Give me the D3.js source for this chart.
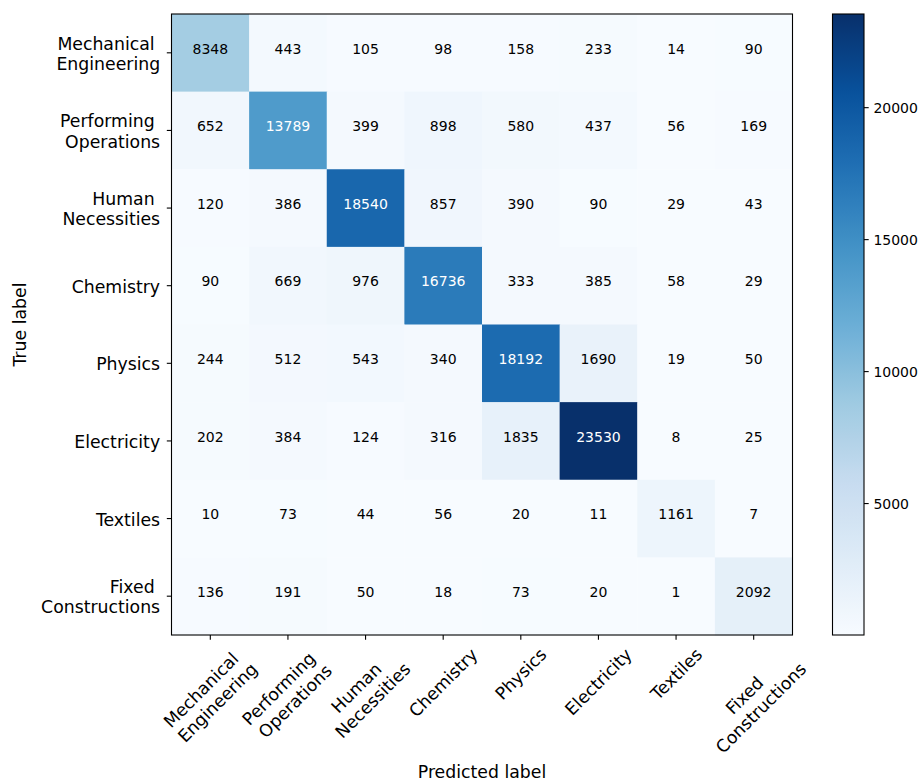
<!DOCTYPE html>
<html><head><meta charset="utf-8">
<script src="https://cdn.jsdelivr.net/npm/d3@7/dist/d3.min.js"></script>
<style>
body{margin:0;background:#fff}
text{font-family:"DejaVu Sans",sans-serif;fill:#000}
</style>
</head><body><svg id="chart" width="922" height="781"></svg>
<script>
// ---------------- data ----------------
const categories = ["Mechanical \nEngineering", "Performing \nOperations", "Human \nNecessities",
  "Chemistry", "Physics", "Electricity", "Textiles", "Fixed \nConstructions"];
const rowMechanical   = [8348, 443, 105, 98, 158, 233, 14, 90];
const rowPerforming   = [652, 13789, 399, 898, 580, 437, 56, 169];
const rowHuman        = [120, 386, 18540, 857, 390, 90, 29, 43];
const rowChemistry    = [90, 669, 976, 16736, 333, 385, 58, 29];
const rowPhysics      = [244, 512, 543, 340, 18192, 1690, 19, 50];
const rowElectricity  = [202, 384, 124, 316, 1835, 23530, 8, 25];
const rowTextiles     = [10, 73, 44, 56, 20, 11, 1161, 7];
const rowFixed        = [136, 191, 50, 18, 73, 20, 1, 2092];
const matrix = [rowMechanical, rowPerforming, rowHuman, rowChemistry, rowPhysics, rowElectricity, rowTextiles, rowFixed];
const colorbarTicks = [5000, 10000, 15000, 20000];
const xAxisTitle = "Predicted label";
const yAxisTitle = "True label";
const bluesStops = ["#f7fbff","#deebf7","#c6dbef","#9ecae1","#6baed6","#4292c6","#2171b5","#08519c","#08306b"];

// ---------------- layout ----------------
const plotL = 171.5, plotT = 14, plotS = 621;
const cbL = 832.5, cbW = 31.5;
const tickLen = 4.7, tickPad = 4.7;
const labelFont = 17.3, cellFont = 14, cbFont = 14, lineGap = 20.5;

const svg = d3.select("#chart");
const idx = d3.range(categories.length);
const x = d3.scaleBand().domain(idx).range([plotL, plotL + plotS]);
const y = d3.scaleBand().domain(idx).range([plotT, plotT + plotS]);
const flat = matrix.flat();
const vmin = d3.min(flat), vmax = d3.max(flat);
const cmap = d3.piecewise(d3.interpolateRgb, bluesStops);
const color = d3.scaleSequential(cmap).domain([vmin, vmax]);
const thresh = vmax / 2;

// cells
const cells = svg.append("g").selectAll("g").data(matrix.flatMap((row, i) => row.map((v, j) => ({i, j, v}))))
  .join("g");
cells.append("rect")
  .attr("x", d => x(d.j)).attr("y", d => y(d.i))
  .attr("width", x.bandwidth() + 0.5).attr("height", y.bandwidth() + 0.5)
  .attr("fill", d => color(d.v));
cells.append("text")
  .attr("x", d => x(d.j) + x.bandwidth() / 2)
  .attr("y", d => y(d.i) + y.bandwidth() / 2 + 0.8)
  .attr("text-anchor", "middle")
  .style("font-size", cellFont + "px")
  .style("fill", d => d.v > thresh ? "#fff" : "#000")
  .text(d => d.v);

// frame
svg.append("rect").attr("x", plotL).attr("y", plotT).attr("width", plotS).attr("height", plotS)
  .attr("fill", "none").attr("stroke", "#000").attr("stroke-width", 1.1);

// y axis
const yAx = svg.append("g").attr("transform", `translate(${plotL},0)`)
  .call(d3.axisLeft(y).tickSize(tickLen).tickPadding(tickPad).tickFormat(i => categories[i]));
yAx.select(".domain").remove();
yAx.selectAll(".tick line").attr("stroke", "#000").attr("stroke-width", 1.1);
yAx.selectAll(".tick text").each(function(i) {
  const t = d3.select(this);
  const lines = categories[i].split("\n");
  t.text(null).attr("dy", null).attr("fill", null)
    .style("font-size", labelFont + "px").style("white-space", "pre").attr("text-anchor", "end");
  const x0 = -(tickLen + tickPad + 2);
  const first = 7 - (lines.length - 1) * lineGap / 2;
  lines.forEach((ln, k) => t.append("tspan").attr("x", x0).attr("y", first + k * lineGap).text(ln));
});

// x axis
const xAx = svg.append("g").attr("transform", `translate(0,${plotT + plotS})`)
  .call(d3.axisBottom(x).tickSize(tickLen).tickPadding(tickPad).tickFormat(i => categories[i]));
xAx.select(".domain").remove();
xAx.selectAll(".tick line").attr("stroke", "#000").attr("stroke-width", 1.1);
xAx.selectAll(".tick text").each(function(i) {
  const t = d3.select(this);
  const lines = categories[i].split("\n");
  t.text(null).attr("dy", null).attr("y", null).attr("fill", null)
    .style("font-size", labelFont + "px").style("white-space", "pre").attr("text-anchor", "middle");
  lines.forEach((ln, k) => t.append("tspan").attr("x", 0).attr("y", k * lineGap).text(ln));
  const b = this.getBBox();
  const a = -Math.PI / 4, c = Math.cos(a), s = Math.sin(a);
  const pts = [[b.x, b.y], [b.x + b.width, b.y], [b.x, b.y + b.height], [b.x + b.width, b.y + b.height]]
    .map(([px, py]) => [px * c - py * s, px * s + py * c]);
  const minX = d3.min(pts, p => p[0]), maxX = d3.max(pts, p => p[0]);
  const minY = d3.min(pts, p => p[1]);
  const tx = -(minX + maxX) / 2, ty = tickLen + tickPad - minY;
  t.attr("transform", `translate(${tx},${ty}) rotate(-45)`);
});

// axis titles
svg.append("text").attr("x", plotL + plotS / 2).attr("y", 778).attr("text-anchor", "middle")
  .style("font-size", labelFont + "px").text(xAxisTitle);
svg.append("text").attr("transform", `translate(26,${plotT + plotS / 2}) rotate(-90)`)
  .attr("text-anchor", "middle").style("font-size", labelFont + "px").text(yAxisTitle);

// colorbar
const cbY = d3.scaleLinear().domain([vmin, vmax]).range([plotT + plotS, plotT]);
const grad = svg.append("defs").append("linearGradient").attr("id", "cbgrad")
  .attr("x1", 0).attr("y1", 1).attr("x2", 0).attr("y2", 0);
d3.range(0, 1.0001, 0.02).forEach(o => grad.append("stop").attr("offset", o).attr("stop-color", cmap(o)));
svg.append("rect").attr("x", cbL).attr("y", plotT).attr("width", cbW).attr("height", plotS)
  .attr("fill", "url(#cbgrad)").attr("stroke", "#000").attr("stroke-width", 1.1);
const cbAx = svg.append("g").attr("transform", `translate(${cbL + cbW},0)`)
  .call(d3.axisRight(cbY).tickValues(colorbarTicks).tickSize(tickLen).tickPadding(tickPad).tickFormat(d3.format("d")));
cbAx.select(".domain").remove();
cbAx.selectAll(".tick line").attr("stroke", "#000").attr("stroke-width", 1.1);
cbAx.selectAll(".tick text").attr("fill", null).style("font-size", cbFont + "px").attr("dy", "0.36em");
</script>
</body></html>
